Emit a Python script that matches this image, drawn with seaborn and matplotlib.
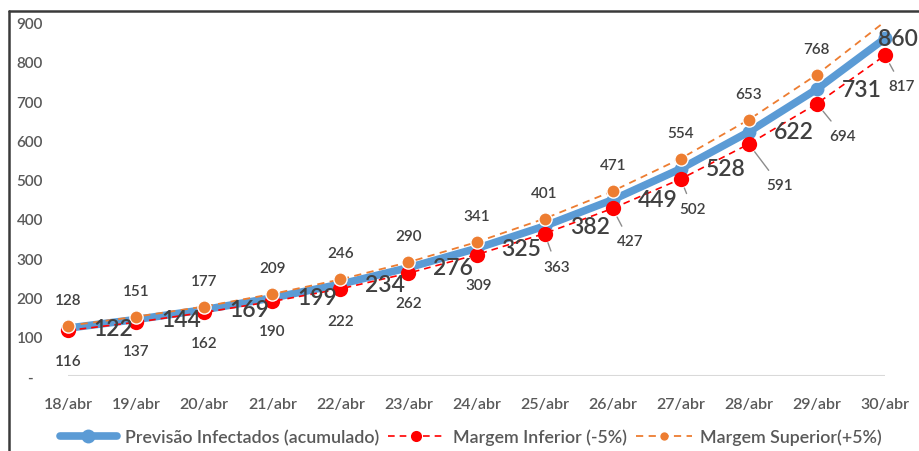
import matplotlib
matplotlib.use("Agg")
import matplotlib.pyplot as plt
from matplotlib.lines import Line2D
import seaborn as sns
import pandas as pd

# Data: cumulative infection forecast with +/-5% margins
dates = ["18/abr", "19/abr", "20/abr", "21/abr", "22/abr", "23/abr", "24/abr",
         "25/abr", "26/abr", "27/abr", "28/abr", "29/abr", "30/abr"]
previsao = [122, 144, 169, 199, 234, 276, 325, 382, 449, 528, 622, 731, 860]
inferior = [116, 137, 162, 190, 222, 262, 309, 363, 427, 502, 591, 694, 817]
superior = [128, 151, 177, 209, 246, 290, 341, 401, 471, 554, 653, 768, 903]
y_ticks = [0, 100, 200, 300, 400, 500, 600, 700, 800, 900]
y_tick_labels = ["-", "100", "200", "300", "400", "500", "600", "700", "800", "900"]

sns.set_theme(style="white")
plt.rcParams["font.family"] = ["Lato", "DejaVu Sans"]

BLUE = "#5B9BD5"
RED = "#FF0000"
ORANGE = "#ED7D31"
GRAY_TXT = "#595959"
DARK_TXT = "#404040"

df = pd.DataFrame({"data": dates, "prev": previsao, "inf": inferior, "sup": superior})
n = len(dates)

fig = plt.figure(figsize=(9.19, 4.52), dpi=100)
ax = fig.add_axes([34 / 919, 75 / 452, 885 / 919, (377 - 23.75) / 452])

sns.lineplot(data=df, x="data", y="prev", ax=ax, sort=False, color=BLUE, lw=5.5,
             marker="o", markersize=10, markeredgewidth=0, zorder=2,
             label="Previsão Infectados (acumulado)", legend=False)
sns.lineplot(data=df, x="data", y="inf", ax=ax, sort=False, color=RED, lw=1.2,
             linestyle=(0, (4, 3)), marker="o", markersize=11, markeredgewidth=0,
             zorder=3, label="Margem Inferior (-5%)", legend=False)
# the last upper-margin point exceeds the axis maximum: its marker is left out
sns.lineplot(data=df, x="data", y="sup", ax=ax, sort=False, color=ORANGE, lw=1.3,
             linestyle=(0, (4, 3)), marker="o", markersize=9.5,
             markeredgecolor="white", markeredgewidth=1, zorder=4,
             markevery=list(range(n - 1)),
             label="Margem Superior(+5%)", legend=False)

ax.set_xlim(-0.5, n - 0.5)
ax.set_ylim(0, 900)
ax.hlines(0, 0, n - 1, color="#D9D9D9", lw=1.5, zorder=1)
for s in ax.spines.values():
    s.set_visible(False)
ax.set_xlabel("")
ax.set_ylabel("")
ax.set_yticks(y_ticks)
ax.set_yticklabels(y_tick_labels)
ax.tick_params(axis="y", length=0, pad=3, labelsize=11, labelcolor=GRAY_TXT)
ax.tick_params(axis="x", length=0, pad=15, labelsize=11.5, labelcolor=GRAY_TXT)
for t in ax.get_yticklabels():
    t.set_horizontalalignment("center")
    t.set_fontweight("semibold")
for t in ax.get_xticklabels():
    t.set_fontweight("semibold")

px = 0.72  # pixels -> points at 100 dpi

# Forecast labels to the right of each point
for i, v in enumerate(previsao):
    dx = 13 if i == n - 1 else 45
    ax.annotate(str(v), (i, v), xytext=(dx * px, 0), textcoords="offset points",
                ha="center", va="center", fontsize=16.5, fontweight="semibold",
                color=DARK_TXT, zorder=6, annotation_clip=False)

# Lower-margin labels below, with leader lines where they are pushed aside
inf_offsets = [(0, 31), (0, 29), (0, 31), (0, 30), (0, 32), (0, 30), (2, 30),
               (12, 33), (17, 33), (12, 30), (31, 41), (26, 32), (17, 31)]
inf_leader = [False] * 7 + [True] * 6
for i, (v, (dx, dy), lead) in enumerate(zip(inferior, inf_offsets, inf_leader)):
    kw = {}
    if lead:
        kw["arrowprops"] = dict(arrowstyle="-", color="#8C8C8C", lw=1,
                                shrinkA=4, shrinkB=7)
    ax.annotate(str(v), (i, v), xytext=(dx * px, -dy * px),
                textcoords="offset points", ha="center", va="center",
                fontsize=11, fontweight="semibold", color=DARK_TXT, zorder=6,
                annotation_clip=False, **kw)

# Upper-margin labels above (the last point lies beyond the axis maximum)
for i, v in enumerate(superior[:-1]):
    ax.annotate(str(v), (i, v), xytext=(0, 26 * px), textcoords="offset points",
                ha="center", va="center", fontsize=11, fontweight="semibold",
                color=DARK_TXT, zorder=6)

handles = [
    Line2D([], [], color=BLUE, lw=5.5, marker="o", markersize=10, markeredgewidth=0),
    Line2D([], [], color=RED, lw=1.2, linestyle=(0, (4, 3)), marker="o",
           markersize=8, markeredgewidth=0),
    Line2D([], [], color=ORANGE, lw=1.3, linestyle=(0, (4, 3)), marker="o",
           markersize=6, markeredgewidth=0),
]
labels = ["Previsão Infectados (acumulado)", "Margem Inferior (-5%)",
          "Margem Superior(+5%)"]
leg = fig.legend(handles, labels, loc="center", bbox_to_anchor=(471 / 919, 14 / 452),
                 ncol=3, frameon=False, handlelength=3.2, handletextpad=0.45,
                 columnspacing=0.5, prop={"size": 12.8, "weight": "semibold"})
for t in leg.get_texts():
    t.set_color(GRAY_TXT)

# Chart frame (left and top edges)
fig.add_artist(Line2D([9 / 919, 9 / 919], [0, 1 - 12 / 452], color="#3A3A3A", lw=1.8,
                      transform=fig.transFigure))
fig.add_artist(Line2D([9 / 919, 1], [1 - 12 / 452, 1 - 12 / 452], color="#3A3A3A",
                      lw=1.8, transform=fig.transFigure))

fig.savefig("out.png", dpi=100)
